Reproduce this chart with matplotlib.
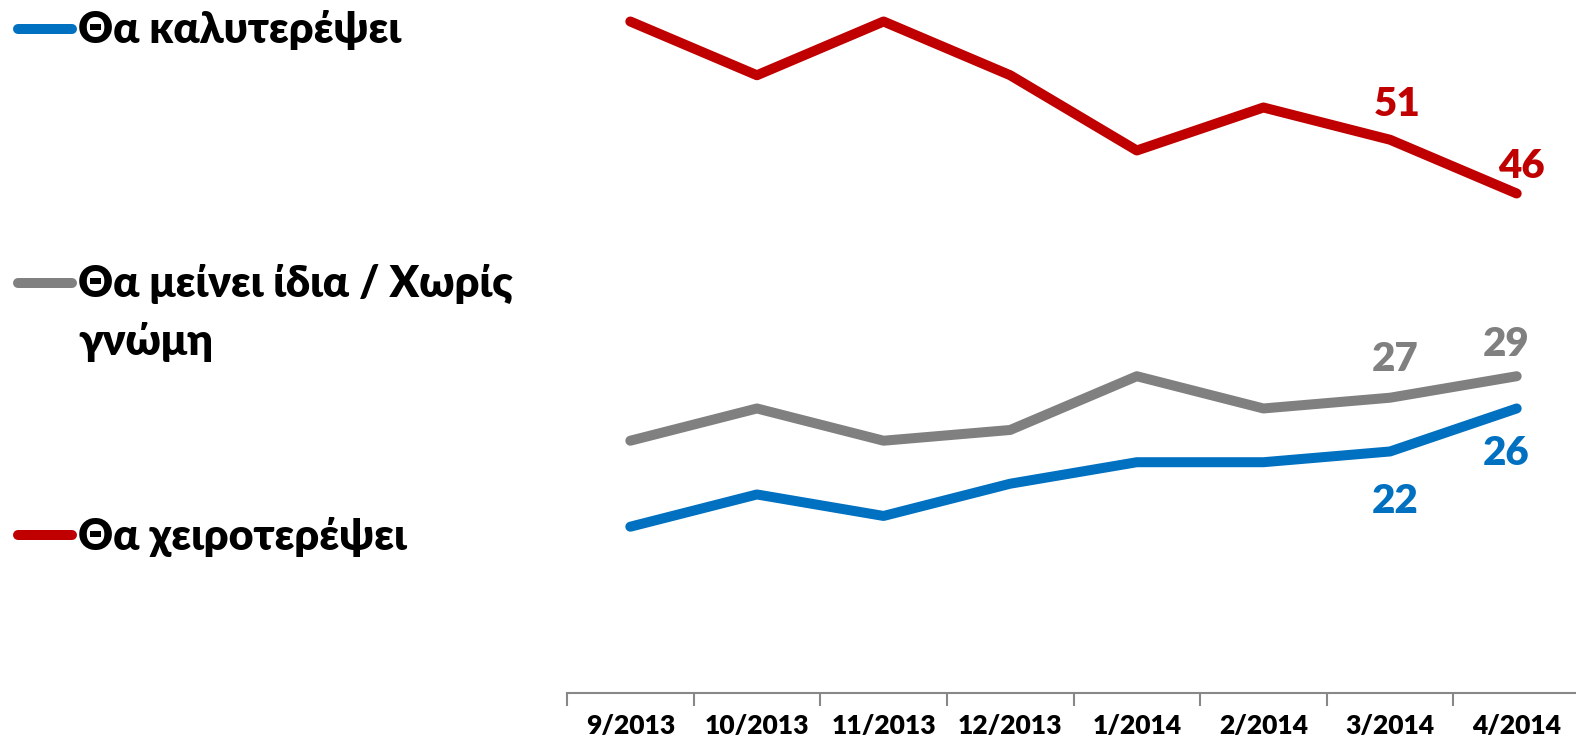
import matplotlib
matplotlib.use("Agg")
import matplotlib.pyplot as plt

plt.rcParams['font.family'] = ['Lato', 'DejaVu Sans']

# --- data ---
months = ["9/2013", "10/2013", "11/2013", "12/2013", "1/2014", "2/2014", "3/2014", "4/2014"]
better = [15, 18, 16, 19, 21, 21, 22, 26]
same = [23, 26, 23, 24, 29, 26, 27, 29]
worse = [62, 57, 62, 57, 50, 54, 51, 46]

series_names = [["Θα καλυτερέψει"], ["Θα μείνει ίδια / Χωρίς", "γνώμη"], ["Θα χειροτερέψει"]]
colors = ["#0070C0", "#808080", "#C00000"]
WEIGHT = 'heavy'

W, H = 1576, 744
fig = plt.figure(figsize=(W / 100, H / 100), dpi=100)
ax = fig.add_axes([567 / W, 51 / H, 1013 / W, 693 / H])

x = list(range(len(months)))
for vals, c in zip([better, same, worse], colors):
    ax.plot(x, vals, color=c, lw=7.2, solid_capstyle='round', solid_joinstyle='round', clip_on=False)

# labels on the last two points (offsets in pixels)
lab = dict(fontsize=29, fontweight=WEIGHT, ha='center', va='center', textcoords='offset pixels')
ax.annotate(str(worse[6]), (6, worse[6]), xytext=(7, 35), color=colors[2], **lab)
ax.annotate(str(worse[7]), (7, worse[7]), xytext=(5, 27), color=colors[2], **lab)
ax.annotate(str(same[6]), (6, same[6]), xytext=(5, 38), color=colors[1], **lab)
ax.annotate(str(same[7]), (7, same[7]), xytext=(-11, 32), color=colors[1], **lab)
ax.annotate(str(better[6]), (6, better[6]), xytext=(5, -50), color=colors[0], **lab)
ax.annotate(str(better[7]), (7, better[7]), xytext=(-11, -45), color=colors[0], **lab)

ax.set_xlim(-0.5, 7.5)
ax.set_ylim(-0.47, 64.0)
for s in ["left", "right", "top"]:
    ax.spines[s].set_visible(False)
ax.spines["bottom"].set_color("#888888")
ax.spines["bottom"].set_linewidth(1.5)
ax.set_yticks([])
ax.set_xticks([i - 0.5 for i in range(len(months) + 1)])
ax.set_xticklabels([])
ax.set_xticks(x, minor=True)
ax.set_xticklabels(months, minor=True, fontsize=19, fontweight=WEIGHT)
ax.tick_params(axis='x', which='major', length=9, width=1.5, color="#888888", direction='out')
ax.tick_params(axis='x', which='minor', length=0, pad=15)

# legend drawn by hand on the left
leg_line_y = [29, 283, 535]
leg_base_y = [[43], [297, 355], [550]]
for lines, c, ly, bys in zip(series_names, colors, leg_line_y, leg_base_y):
    yf = 1 - ly / H
    fig.add_artist(plt.Line2D([18 / W, 72 / W], [yf, yf], color=c, lw=7.2,
                              solid_capstyle='round', transform=fig.transFigure))
    for txt, by in zip(lines, bys):
        fig.text(78 / W, 1 - by / H, txt, fontsize=31, fontweight=WEIGHT,
                 ha='left', va='baseline')

fig.savefig("out.png", dpi=100)
